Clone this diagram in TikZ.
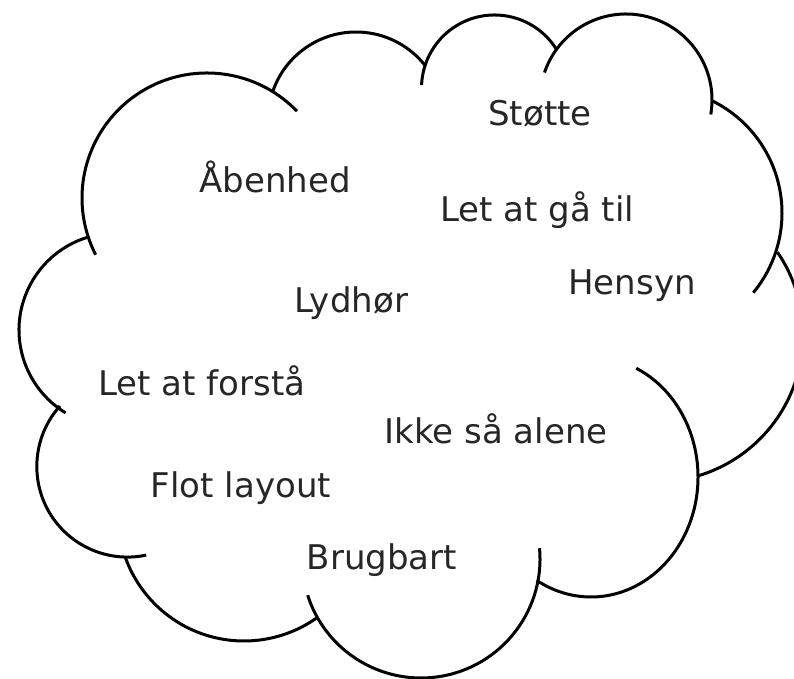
\documentclass[tikz,border=0pt]{standalone}
\usepackage{fontspec}
\setmainfont{DejaVu Sans}

\begin{document}
\begin{tikzpicture}[x=1pt,y=1pt,
  cloud/.style={line width=3pt, black},
  word/.style={anchor=base, text=black!85, font=\fontsize{34}{40}\selectfont}]
\useasboundingbox (0,0) rectangle (794,679);

% bumps of the cloud, left side first, then clockwise
\draw[cloud] (116,349) ++(106.6:97) arc[start angle=106.6, end angle=238.7, radius=97];
\draw[cloud] (207,481) ++(44:125) arc[start angle=44, end angle=207, radius=125];
\draw[cloud] (356,559) ++(38.6:88) arc[start angle=38.6, end angle=161.4, radius=88];
\draw[cloud] (494.5,591) ++(31.3:73) arc[start angle=31.3, end angle=177.7, radius=73];
\draw[cloud] (626,579) ++(-9.7:86) arc[start angle=-9.7, end angle=161.4, radius=86];
\draw[cloud] (657,466) ++(-39.6:125) arc[start angle=-39.6, end angle=64, radius=125];
\draw[cloud] (656,344) ++(-73.9:147) arc[start angle=-73.9, end angle=34.3, radius=147];
\draw[cloud] (591,202) ++(65:107 and 120) arc[start angle=65, end angle=-120.5, x radius=107, y radius=120];
\draw[cloud] (421,120) ++(5.2:119) arc[start angle=5.2, end angle=-162.3, radius=119];
\draw[cloud] (244,164) ++(-54:126) arc[start angle=-54, end angle=-160.6, radius=126];
\draw[cloud] (127.4,212.5) ++(138.1:90.6) arc[start angle=138.1, end angle=282, radius=90.6];

% words
\node[word] (stoette) at (540,553) {Støtte};
\node[word] (aabenhed) at (275,486) {Åbenhed};
\node[word] (letgaa) at (537,457) {Let at gå til};
\node[word] (hensyn) at (632,384) {Hensyn};
\node[word] (lydhoer) at (351,366) {Lydhør};
\node[word] (letforstaa) at (202,283) {Let at forstå};
\node[word] (ikkealene) at (496,235) {Ikke så alene};
\node[word] (flot) at (241,181) {Flot layout};
\node[word] (brugbart) at (382,109) {Brugbart};

\end{tikzpicture}
\end{document}
